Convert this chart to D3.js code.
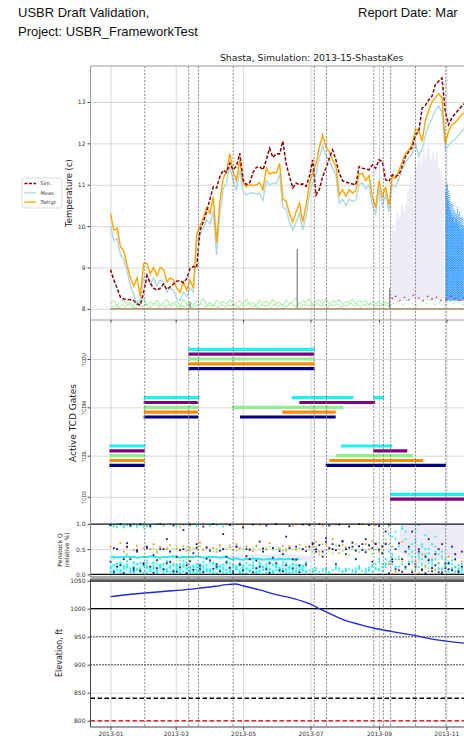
<!DOCTYPE html>
<html>
<head>
<meta charset="utf-8">
<style>
html, body { margin: 0; padding: 0; background: #fff; overflow: hidden; }
svg { display: block; font-family: "DejaVu Sans", sans-serif; }
.hdr { font-family: "Liberation Sans", Arial, sans-serif; }
</style>
<script src="https://cdnjs.cloudflare.com/ajax/libs/d3/7.8.5/d3.min.js"></script>
</head>
<body>
<div id="chart"></div>
<script>
// ---- Datos (días desde 2013-01-01) ----
const tempStep = 3;   // malla de temperaturas, cada 3 días desde el día 0
const simTemp = [
  8.95,8.7,8.5,8.28,8.24,8.23,8.22,8.2,8.12,8.09,8.4,8.8,
  8.62,8.5,8.45,8.5,8.6,8.47,8.53,8.6,8.67,8.68,8.63,8.73,
  8.98,9.02,9.0,9.9,10.1,10.35,10.65,10.95,10.92,11.2,11.35,11.3,
  11.52,11.36,11.45,11.76,11.12,11.0,11.05,11.3,11.42,11.44,11.36,11.6,
  11.88,11.66,11.75,11.74,12.05,11.5,11.2,10.92,11.04,11.0,11.02,10.96,
  11.2,11.6,10.75,10.88,11.2,11.4,11.64,11.84,11.6,11.28,11.1,11.06,
  11.04,11.02,11.0,11.44,11.4,11.38,11.36,11.48,11.4,11.6,11.56,11.12,
  11.08,11.24,11.2,11.24,11.44,11.68,11.8,11.9,12.2,12.3,12.85,12.92,
  13.05,13.14,13.42,13.5,13.58,12.77,12.45,12.62,12.72,12.81,12.9,12.98
];
const measTemp = [
  10.0,9.65,9.7,9.3,9.2,8.9,8.55,8.35,8.1,8.2,8.75,8.85,
  8.6,8.75,8.55,8.7,8.65,8.4,8.5,8.45,8.25,8.2,8.4,8.3,
  8.5,8.4,9.6,9.8,9.95,10.15,10.05,10.35,9.3,10.3,10.9,11.05,
  11.45,11.1,10.85,11.35,10.85,10.75,10.8,10.8,10.78,10.8,10.62,11.1,
  11.0,11.05,11.02,11.25,10.45,10.4,10.1,9.9,10.1,10.3,9.9,10.25,
  10.75,11.05,11.25,11.65,11.95,11.7,11.6,11.4,11.25,10.55,10.65,10.5,
  10.65,10.6,10.62,11.0,11.05,10.9,11.0,10.5,10.3,10.9,10.5,10.75,
  10.35,11.0,10.95,11.15,11.35,11.55,11.65,11.75,12.0,11.7,11.85,12.2,
  12.45,12.6,12.8,12.9,12.75,11.85,11.95,12.05,12.1,12.2,12.3,12.35
];
const trgtTemp = [
  10.3,9.9,9.95,9.5,9.4,9.05,8.75,8.55,8.75,8.3,9.1,9.1,
  8.85,9.0,8.8,9.0,8.95,8.65,8.75,8.7,8.5,8.4,8.65,8.45,
  8.7,8.5,9.8,10.0,10.2,10.45,10.3,10.7,9.6,10.6,11.15,11.3,
  11.75,11.3,11.1,11.6,11.05,10.95,11.0,10.98,11.0,11.05,10.88,11.4,
  11.25,11.3,11.28,11.52,10.65,10.6,10.3,10.1,10.35,10.55,10.1,10.5,
  11.0,11.3,11.5,11.9,12.2,11.9,11.8,11.6,11.45,10.75,10.88,10.72,
  10.88,10.8,10.85,11.25,11.28,11.1,11.22,10.7,10.45,11.1,10.7,10.95,
  10.5,11.2,11.15,11.35,11.55,11.75,11.85,11.97,12.35,12.3,12.05,12.55,
  12.8,13.0,13.1,13.2,13.1,12.0,12.3,12.45,12.5,12.6,12.7,12.75
];
// temperaturas de las compuertas (banda verde cerca de 8 °C)
const gateTempA = [
  8.12,8.2,8.08,8.18,8.22,8.1,8.15,8.06,8.2,8.13,8.24,8.09,
  8.17,8.11,8.21,8.07,8.16,8.23,8.1,8.14,8.19,8.08,8.22,8.12,
  8.17,8.09,8.2,8.14,8.25,8.1,8.16,8.07,8.21,8.13,8.18,8.11,
  8.23,8.09,8.15,8.2,8.12,8.24,8.1,8.17,8.08,8.21,8.14,8.19,
  8.1,8.23,8.13,8.16,8.09,8.22,8.12,8.18,8.26,8.11,8.2,8.15,
  8.24,8.1,8.17,8.21,8.13,8.25,8.12,8.19,8.16,8.22,8.1,8.18,
  8.14,8.23,8.11,8.2,8.15,8.21,8.09,8.17,8.12,8.19,8.1,8.16,8.13
];
const gateTempB = [
  8.04,8.08,8.03,8.1,8.05,8.12,8.06,8.02,8.09,8.05,8.11,8.04,
  8.07,8.13,8.05,8.09,8.03,8.1,8.06,8.12,8.04,8.08,8.05,8.11,
  8.03,8.09,8.07,8.13,8.04,8.1,8.06,8.08,8.03,8.12,8.05,8.09,
  8.07,8.11,8.04,8.1,8.06,8.13,8.05,8.08,8.03,8.11,8.07,8.09,
  8.04,8.12,8.06,8.1,8.05,8.08,8.14,8.06,8.1,8.04,8.12,8.07,
  8.09,8.05,8.13,8.06,8.11,8.04,8.1,8.08,8.12,8.05,8.09,8.07,
  8.14,8.06,8.1,8.04,8.11,8.08,8.13,8.05,8.09,8.06,8.12,8.07,8.1
];
const gateTempBStart = 1.5;
const baseTempLine = [[0, 8.0], [330, 8.0]];
const spikeTemp = [[72, 8.16], [169, 9.45], [252.6, 8.5]];
const lateGreenDots = [[256,8.12],[260,8.18],[265,8.1],[268,8.2],[273,8.14],[277,8.08],[282,8.17],[286,8.12],[290,8.2],[294,8.1],[298,8.15],[303,8.1],[307,8.18],[311,8.12],[315,8.16],[319,8.1]];
const lateRedDots = [[255,8.25],[258,8.3],[262,8.2],[266,8.28],[270,8.22],[274,8.33],[279,8.26],[283,8.2],[287,8.3],[291,8.24],[295,8.28],[299,8.2],[304,8.22],[308,8.3],[312,8.25],[316,8.2],[320,8.27]];
// zona lavanda y columnas azules punteadas al final del año
const lavStart = 254, lavStep = 1;
const lavTops = [9.6,9.9,10.1,9.8,9.9,10.3,10.4,10.2,10.2,10.5,10.6,10.4,10.3,10.6,10.5,10.9,10.8,11.1,11.3,10.9,11.0,11.5,11.7,11.3,
  11.5,11.8,11.9,11.4,11.6,11.8,12.0,11.6,11.7,12.1,11.9,11.8,11.5,11.7,11.9,11.6,11.6,11.8,11.7,11.4,11.4,11.2,11.5,11.0,11.2];
const blueStart = 303.5, blueStep = 0.5;
const blueTops = [10.9,11.05,10.7,11.0,10.6,10.85,10.5,10.75,10.4,10.6,10.3,10.55,10.2,10.5,10.25,10.4,10.1,10.35,10.2,10.3,10.15,10.45,10.0,10.3,10.1,10.35,9.9,10.2,10.05,10.25,9.95,10.2,10.0];
const colBottom = 8.2;

const tempTicks = [8, 9, 10, 11, 12, 13];
const legendNames = ["Sim.", "Meas.", "Twtrgt"];

// Compuertas TCD
const gateNames = ["TCDU", "TCDM", "TCDL", "TCDS"];
const gateLevels = [3, 2, 1, 0];
const gateTickVals = [3, 2, 1, 0.15];
const gateSeries = ["cyan", "purple", "lightgreen", "orange", "navy"];
const gateOffsets = [0.2, 0.1, 0, -0.1, -0.2];
const cyanGates = [["TCDL",-1,31.5],["TCDM",30,80.5],["TCDU",70.5,185],["TCDM",164,219.7],["TCDM",237.8,247.5],["TCDL",208.6,254.8],["TCDS",253,370]];
const purpleGates = [["TCDL",-1,31],["TCDM",30,79],["TCDU",70.5,184.4],["TCDM",170.9,239.4],["TCDL",237.8,268.6],["TCDS",253,370]];
const greenGates = [["TCDL",-1,31],["TCDM",30,79],["TCDU",70.5,184.4],["TCDM",110,210.7],["TCDL",203.8,273.5]];
const orangeGates = [["TCDL",-1,31],["TCDM",30,79],["TCDU",70.5,184.4],["TCDM",155.5,203.8],["TCDL",198,283]];
const navyGates = [["TCDL",-1,31],["TCDM",30,79.5],["TCDU",70.5,184.6],["TCDM",117.2,203.8],["TCDL",194.7,303.6]];
const changeDays = [31, 70.8, 79.6, 111, 184.4, 195.5, 238.3, 247, 253.5, 276, 303.4];

// Caudal relativo por toma (malla cada 3 días)
const qStep = 3;
const cyanQ1 = [
  0.05,0.18,0.09,0.22,0.04,0.14,0.11,0.03,0.2,0.07,0.16,0.24,
  0.06,0.12,0.02,0.19,0.1,0.05,0.23,0.08,0.15,0.04,0.21,0.12,
  0.06,0.17,0.03,0.13,0.25,0.08,0.05,0.2,0.11,0.16,0.04,0.09,
  0.22,0.06,0.14,0.02,0.18,0.1,0.07,0.24,0.12,0.05,0.15,0.2,
  0.08,0.03,0.17,0.11,0.06,0.22,0.13,0.04,0.19,0.09,0.15,0.05,
  0.08,0.04,0.12,null,0.06,0.1,0.03,null,0.14,0.07,0.05,0.11,
  null,0.09,0.04,0.16,0.06,0.1,0.13,0.05,0.2,0.08,0.15,0.18,
  0.25,0.4,0.15,0.55,0.3,0.7,0.22,0.45,0.9,0.35,0.6,0.18,
  0.5,0.28,0.75,0.4,0.12,0.3,0.2,0.08,0.15,0.05,0.1,0.06
];
const cyanQ2 = [
  0.12,0.03,0.2,0.07,0.16,0.26,0.05,0.14,0.09,0.22,0.02,0.17,
  0.11,0.24,0.06,0.13,0.21,0.08,0.15,0.04,0.19,0.1,0.27,0.03,
  0.14,0.08,0.2,0.05,0.12,0.18,0.07,0.23,0.02,0.15,0.1,0.26,
  0.06,0.19,0.11,0.04,0.13,0.22,0.08,0.16,0.03,0.2,0.09,0.12,
  0.25,0.05,0.14,0.07,0.18,0.1,0.03,0.21,0.06,0.16,0.11,0.24,
  null,0.1,null,0.05,null,0.12,null,0.08,0.15,null,0.06,null,
  0.1,null,0.07,0.13,null,0.04,0.1,null,0.12,0.3,0.06,0.22,
  0.6,0.2,0.85,0.35,0.95,0.12,0.5,0.25,0.65,0.98,0.3,0.78,
  0.42,0.2,0.55,0.1,0.35,0.06,0.25,0.12,0.04,0.18,0.08,0.14
];
const cyanQ3 = [
  0.97,0.02,1.0,0.08,0.95,0.15,0.99,0.05,0.96,0.1,0.98,0.03,
  0.93,0.12,0.07,0.18,0.04,0.1,0.15,0.02,0.08,0.2,0.05,0.11,
  0.03,0.14,0.09,0.02,0.17,0.06,0.1,0.04,0.13,0.07,0.19,0.03,
  0.1,0.05,0.16,0.08,0.02,0.12,0.06,0.18,0.04,0.09,0.14,0.03,
  0.11,0.07,0.2,0.05,0.1,0.02,0.15,0.08,0.12,0.04,0.17,0.06,
  null,null,0.08,null,null,0.04,null,null,0.1,null,null,0.06,
  null,null,0.12,null,null,0.08,null,0.15,null,0.1,0.2,0.14,
  0.8,0.35,0.7,0.15,0.9,0.45,0.25,0.6,0.1,0.4,0.2,0.5,
  0.3,0.15,0.45,0.22,0.08,0.16,0.1,0.2,0.06,0.12,0.03,0.09
];
const cyanQ4 = [
  0.15,0.08,0.21,0.02,0.12,0.19,0.06,0.24,0.1,0.04,0.17,0.13,
  0.07,0.2,0.03,0.15,0.09,0.26,0.05,0.18,0.11,0.02,0.16,0.23,
  0.09,0.04,0.14,0.2,0.06,0.11,0.25,0.03,0.17,0.08,0.13,0.21,
  0.04,0.16,0.1,0.22,0.07,0.02,0.18,0.12,0.05,0.24,0.09,0.15,
  0.03,0.19,0.08,0.13,0.25,0.06,0.1,0.2,0.04,0.14,0.07,0.17,
  null,0.06,null,null,0.1,null,0.04,null,null,0.12,null,0.08,
  null,0.05,null,0.1,null,null,0.07,0.18,0.1,0.25,0.4,0.3,
  0.45,0.75,0.3,0.6,0.2,0.85,0.5,0.35,0.7,0.15,0.55,0.4,
  0.22,0.6,0.3,0.12,0.45,0.2,0.05,0.28,0.15,0.1,0.2,0.04
];
const cyanTopQ = [
  0.99,0.97,0.94,1.0,0.96,0.98,0.95,0.99,0.97,1.0,0.93,0.98,
  0.96,null,0.99,null,0.97,null,1.0,null,0.95,null,0.98,null,
  0.99,null,0.96,null,1.0,null,0.97,null,0.98,null,0.95,null
];
const cyanBand = [
  0.34,0.35,0.33,0.35,0.34,0.36,0.34,0.35,0.33,0.34,0.35,0.34,
  0.36,0.35,0.34,0.33,0.35,0.34,0.35,0.36,0.34,0.33,0.35,0.34,
  0.35,0.34,0.36,0.35,0.33,0.34,0.35,0.34,0.35,0.33,0.34,0.35,
  0.31,0.3,0.32,0.3,0.29,0.31,0.3,0.32,0.3,0.31,0.29,0.3,
  0.31,0.3,0.29,0.31,0.3,0.3,0.31,0.29,0.3,0.31
];
const navyQ1 = [
  0.98,0.52,0.15,1.0,0.3,0.62,0.97,0.08,0.45,0.99,0.22,0.55,
  0.96,0.38,0.12,1.0,0.5,0.7,0.25,0.97,0.05,0.48,0.88,0.18,
  0.99,0.42,0.6,0.1,0.95,0.53,0.28,1.0,0.15,0.47,0.8,0.35,
  0.98,0.06,0.55,0.2,0.93,0.5,0.3,0.99,0.12,0.65,0.45,0.97,
  0.22,0.52,1.0,0.08,0.4,0.75,0.96,0.3,0.55,0.18,0.99,0.46,
  0.98,0.6,0.45,1.0,0.35,0.72,0.97,0.5,0.2,0.99,0.65,0.4,
  0.95,0.55,0.3,1.0,0.48,0.7,0.98,0.25,0.6,0.96,0.42,0.85,
  0.99,0.3,0.1,0.62,0.05,0.45,0.2,0.85,0.15,0.5,0.08,0.35,
  0.7,0.12,0.4,0.04,0.6,0.22,0.1,0.55,0.3,0.06,0.45,0.18
];
const navyQ2 = [
  0.25,0.05,0.5,0.18,0.02,0.55,0.3,0.12,0.48,0.07,0.2,0.52,
  0.15,0.03,0.28,0.5,0.1,0.22,0.45,0.06,0.35,0.14,0.5,0.02,
  0.26,0.09,0.53,0.17,0.04,0.31,0.47,0.11,0.2,0.06,0.5,0.24,
  0.13,0.02,0.55,0.19,0.08,0.36,0.49,0.04,0.27,0.15,0.51,0.1,
  0.03,0.33,0.22,0.46,0.06,0.18,0.52,0.12,0.29,0.04,0.5,0.2,
  0.55,0.62,0.5,0.58,0.45,0.65,0.52,0.6,0.48,0.57,0.66,0.5,
  0.53,0.63,0.47,0.56,0.6,0.44,0.58,0.52,0.61,0.49,0.55,0.6,
  0.02,0.25,0.5,0.08,0.3,0.15,0.55,0.04,0.2,0.45,0.1,0.02,
  0.28,0.06,0.18,0.5,0.03,0.12,0.22,0.08,0.4,0.05,0.15,0.02
];
const orangeQ = [
  0.55,0.97,0.5,0.62,0.45,0.53,0.99,0.48,0.57,0.12,0.52,0.96,
  0.5,0.6,0.44,0.54,0.98,0.5,0.58,0.2,0.51,0.95,0.56,0.47,
  0.53,1.0,0.5,0.63,0.49,0.55,0.97,0.52,0.45,0.58,0.5,0.99,
  0.54,0.48,0.6,0.51,0.96,0.55,0.5,0.46,0.57,0.98,0.52,0.49,
  0.62,0.53,1.0,0.5,0.56,0.47,0.55,0.97,0.51,0.59,0.5,0.54,
  0.98,0.55,0.65,0.45,0.97,0.6,0.5,0.7,0.99,0.42,0.58,0.52,
  0.96,0.63,0.48,0.55,1.0,0.6,0.5,0.66,0.98,0.45,0.57,0.62,
  0.2,0.55,0.05,0.3,0.65,0.12,0.5,0.08,0.25,0.02,0.4,0.15,
  0.06,0.3,0.1,0.22,0.04,0.18,0.35,0.08,0.14,0.03,0.25,0.1
];
const greenQ = [
  0.99,0.95,1.0,0.97,0.93,0.98,0.96,1.0,0.94,0.99,0.97,0.95,
  0.5,0.52,0.48,0.55,0.5,0.53,0.46,0.51,0.57,0.49,0.5,0.54,
  0.47,0.52,0.5,0.56,0.48,0.53,0.51,0.45,0.5,0.55,0.49,0.52,
  0.58,0.5,0.47,0.53,0.5,0.56,0.48,0.51,0.54,0.5,0.46,0.52,
  0.55,0.49,0.5,0.53,0.47,0.51,0.56,0.5,0.48,0.52,0.5,0.54,
  0.5,0.45,0.55,0.4,0.6,0.48,0.52,0.42,0.58,0.5,0.46,0.54,
  0.38,0.5,0.6,0.44,0.52,0.48,0.56,0.4,0.5,0.62,0.45,0.7,
  0.95,0.3,0.15,0.6,0.25,0.1,0.4,0.2,0.05,0.3,0.18,0.35,
  0.12,0.25,0.08,0.2,0.3,0.15,0.22,0.1,0.28,0.18,0.12,0.24
];
const greenQ2 = [
  0.96,0.3,0.99,0.25,0.94,0.4,0.98,0.2,0.95,0.35,1.0,0.28,
  0.97,0.15,0.22,0.3,0.18,0.26,0.12,0.32,0.2,0.27,0.14,0.3
];
// banda lavanda [día, q inferior, q superior]
const lavBand = [[108,0.28,0.38],[125,0.27,0.4],[140,0.26,0.39],[155,0.27,0.41],[170,0.28,0.38],[185,0.27,0.36],[195,null,null],
  [262,0.45,0.95],[270,0.3,1.0],[280,0.2,1.0],[292,0.25,0.98],[305,0.35,1.0],[318,0.3,1.0],[330,0.3,1.0]];
// banda cian de fondo [día, q inferior, q superior]
const cyanLowBand = [[0,0.02,0.22],[30,0.03,0.24],[60,0.02,0.2],[90,0.03,0.23],[120,0.02,0.2],[150,0.03,0.22],[178,0.02,0.2],[182,null,null],
  [372,null,null],[378,0.05,0.45],[390,0.1,0.8],[400,0.08,0.6],[410,null,null]];
const penRefVals = [1.0, 0.0];
const penTicks = [0.0, 0.5, 1.0];

// Elevación del embalse
const elevDays = [0,15,31,50,71,80,95,105,113,120,135,150,165,180,190,200,210,225,238,255,276,290,304,320,335];
const elevVals = [1021.5,1025,1028,1031,1034.5,1036.5,1040,1043,1044,1041,1033.5,1025,1018.5,1009,999,990,981,972,965.5,959,952,946,942,938.5,936];
const elevRefVals = [1050, 1000, 950, 900, 840, 800];
const elevTicks = [800, 850, 900, 950, 1000, 1050];

// ---- Configuración visual ----
const W = 464, H = 741;
const L = 90.5, R = 532.7;
const P = {
  temp: { top: 66, bottom: 320 },
  gates: { top: 320, bottom: 518 },
  pen: { top: 518, bottom: 577 },
  elev: { top: 579, bottom: 727 }
};
const gateColors = { cyan: "#20f0f0", purple: "#800080", lightgreen: "#90ee90", orange: "#ff8c00", navy: "#000080" };
const elevRefStyle = [
  { color: "#555", w: 2.4, dash: null },
  { color: "#000", w: 1.3, dash: null },
  { color: "#000", w: 1.2, dash: "1,2" },
  { color: "#000", w: 1.2, dash: "1,2" },
  { color: "#000", w: 1.4, dash: "4.5,2.5" },
  { color: "#e3242b", w: 1.4, dash: "4.5,2.5" }
];

const t0 = Date.UTC(2013, 0, 1);
const toDate = d => new Date(t0 + d * 864e5);

const x = d3.scaleUtc().domain([toDate(-18.1), toDate(382.1)]).range([L, R]);
const yT = d3.scaleLinear().domain([7.73, 13.87]).range([P.temp.bottom, P.temp.top]);
const yG = d3.scaleLinear().domain([-0.29, 3.807]).range([P.gates.bottom, P.gates.top]);
const yQ = d3.scaleLinear().domain([-0.054, 1.12]).range([P.pen.bottom, P.pen.top]);
const yE = d3.scaleLinear().domain([788.75, 1053]).range([P.elev.bottom, P.elev.top]);

const svg = d3.select("#chart").append("svg").attr("width", W).attr("height", H);
const defs = svg.append("defs");
Object.entries(P).forEach(([k, p]) => {
  defs.append("clipPath").attr("id", "clip-" + k)
    .append("rect").attr("x", L).attr("y", p.top).attr("width", R - L).attr("height", p.bottom - p.top);
});

// Encabezado
svg.append("text").attr("class", "hdr").attr("x", 18).attr("y", 17).attr("font-size", 13).attr("fill", "#111").text("USBR Draft Validation,");
svg.append("text").attr("class", "hdr").attr("x", 18).attr("y", 36).attr("font-size", 13).attr("fill", "#111").text("Project: USBR_FrameworkTest");
svg.append("text").attr("class", "hdr").attr("x", 358).attr("y", 17).attr("font-size", 13).attr("fill", "#111").text("Report Date: Mar");
svg.append("text").attr("x", (L + R) / 2).attr("y", 61).attr("text-anchor", "middle").attr("font-size", 9.3).attr("fill", "#222")
  .text("Shasta, Simulation: 2013-15-ShastaKes");

// marcas cada dos meses dentro del año simulado
const monthTicks = d3.utcMonth.every(2).range(toDate(0), toDate(365));

function drawGrid(p, y, ticks) {
  const g = svg.append("g");
  g.append("g").attr("transform", `translate(${L},0)`)
    .call(d3.axisLeft(y).tickValues(ticks).tickSize(-(R - L)).tickFormat(""))
    .call(s => s.select(".domain").remove())
    .selectAll("line").attr("stroke", "#d4d4d4").attr("stroke-width", 0.9);
  g.append("g").attr("transform", `translate(0,${p.bottom})`)
    .call(d3.axisBottom(x).tickValues(monthTicks).tickSize(-(p.bottom - p.top)).tickFormat(""))
    .call(s => s.select(".domain").remove())
    .selectAll("line").attr("stroke", "#d4d4d4").attr("stroke-width", 0.9);
}

function yAxis(y, ticks, fmt) {
  const g = svg.append("g").attr("transform", `translate(${L},0)`)
    .call(d3.axisLeft(y).tickValues(ticks).tickSize(3).tickPadding(2).tickFormat(fmt));
  g.select(".domain").remove();
  g.selectAll("line").attr("stroke", "#444");
  g.selectAll("text").attr("font-size", 6).attr("fill", "#333").attr("font-family", "DejaVu Sans");
  return g;
}

function yLabel(text, cx, cy, size) {
  svg.append("text").attr("transform", `translate(${cx},${cy}) rotate(-90)`)
    .attr("text-anchor", "middle").attr("font-size", size).attr("fill", "#222").text(text);
}

drawGrid(P.temp, yT, tempTicks);
drawGrid(P.gates, yG, gateTickVals);
drawGrid(P.pen, yQ, [0.5]);
drawGrid(P.elev, yE, elevTicks);

// ---- Panel de temperatura ----
const gT = svg.append("g").attr("clip-path", "url(#clip-temp)");
const gridPts = (arr, step, start = 0) => arr.map((v, i) => [start + i * step, v]).filter(d => d[1] != null);
const lineT = d3.line().x(d => x(toDate(d[0]))).y(d => yT(d[1]));

// zona lavanda (relleno suave) y columnas azules punteadas
gT.append("path").datum(gridPts(lavTops, lavStep, lavStart))
  .attr("d", d3.area().x(d => x(toDate(d[0]))).y0(yT(colBottom)).y1(d => yT(d[1])))
  .attr("fill", "#ecebf8");
gT.append("g").selectAll("line").data(blueTops).join("line")
  .attr("x1", (d, i) => x(toDate(blueStart + i * blueStep))).attr("x2", (d, i) => x(toDate(blueStart + i * blueStep)))
  .attr("y1", yT(colBottom)).attr("y2", d => yT(d))
  .attr("stroke", "#1e8fff").attr("stroke-width", 1).attr("stroke-dasharray", "1.2,1")
  .attr("stroke-dashoffset", (d, i) => (i % 3) * 0.7);

gT.append("path").datum(gridPts(gateTempA, tempStep)).attr("d", lineT)
  .attr("fill", "none").attr("stroke", "#90ee90").attr("stroke-width", 1);
gT.append("path").datum(gridPts(gateTempB, tempStep, gateTempBStart)).attr("d", lineT)
  .attr("fill", "none").attr("stroke", "#9aea8e").attr("stroke-width", 1);
gT.append("g").selectAll("circle").data(lateGreenDots).join("circle")
  .attr("cx", d => x(toDate(d[0]))).attr("cy", d => yT(d[1])).attr("r", 0.8).attr("fill", "#90ee90");
gT.append("g").selectAll("circle").data(lateRedDots).join("circle")
  .attr("cx", d => x(toDate(d[0]))).attr("cy", d => yT(d[1])).attr("r", 0.8).attr("fill", "#d0203a");
gT.append("g").selectAll("line").data(spikeTemp).join("line")
  .attr("x1", d => x(toDate(d[0]))).attr("x2", d => x(toDate(d[0])))
  .attr("y1", yT(8.0)).attr("y2", d => yT(d[1]))
  .attr("stroke", "#8a8a8a").attr("stroke-width", 1.3);
gT.append("path").datum(baseTempLine).attr("d", lineT)
  .attr("fill", "none").attr("stroke", "#b59a7a").attr("stroke-width", 1.8);

gT.append("path").datum(gridPts(measTemp, tempStep)).attr("d", lineT)
  .attr("fill", "none").attr("stroke", "#add8e6").attr("stroke-width", 1.4);
gT.append("path").datum(gridPts(trgtTemp, tempStep)).attr("d", lineT)
  .attr("fill", "none").attr("stroke", "#ffa500").attr("stroke-width", 1.4);
gT.append("path").datum(gridPts(simTemp, tempStep)).attr("d", lineT)
  .attr("fill", "none").attr("stroke", "#8b0000").attr("stroke-width", 1.5).attr("stroke-dasharray", "3.5,1.8");

yAxis(yT, tempTicks, d3.format("d"));
yLabel("Temperature (c)", 72, 193, 8.5);

// Leyenda
const leg = svg.append("g").attr("transform", "translate(22,178)");
leg.append("rect").attr("width", 40).attr("height", 30).attr("rx", 2)
  .attr("fill", "#fff").attr("stroke", "#d0d0d0").attr("stroke-width", 0.8);
const legStyle = [
  { color: "#8b0000", dash: "3,1.5" },
  { color: "#add8e6", dash: null },
  { color: "#ffa500", dash: null }
];
legendNames.forEach((name, i) => {
  const yy = 5.5 + i * 9.3;
  leg.append("line").attr("x1", 2.5).attr("x2", 14).attr("y1", yy).attr("y2", yy)
    .attr("stroke", legStyle[i].color).attr("stroke-width", 1.3).attr("stroke-dasharray", legStyle[i].dash);
  leg.append("text").attr("x", 18.5).attr("y", yy + 1.8).attr("font-size", 5).attr("fill", "#333").text(name);
});

// ---- Panel de compuertas ----
const gG = svg.append("g").attr("clip-path", "url(#clip-gates)");
const gatePeriods = [cyanGates, purpleGates, greenGates, orangeGates, navyGates];
gateSeries.forEach((s, si) => {
  gG.append("g").selectAll("line").data(gatePeriods[si]).join("line")
    .attr("x1", d => x(toDate(d[1]))).attr("x2", d => x(toDate(d[2])))
    .attr("y1", d => yG(gateLevels[gateNames.indexOf(d[0])] + gateOffsets[si]))
    .attr("y2", d => yG(gateLevels[gateNames.indexOf(d[0])] + gateOffsets[si]))
    .attr("stroke", gateColors[s]).attr("stroke-width", 3.2);
});
const ga = svg.append("g").attr("transform", `translate(${L},0)`)
  .call(d3.axisLeft(yG).tickValues(gateTickVals).tickSize(3).tickFormat((d, i) => gateNames[i]));
ga.select(".domain").remove();
ga.selectAll("line").attr("stroke", "#444");
ga.selectAll("text").attr("font-size", 4.6).attr("fill", "#333").attr("text-anchor", "middle")
  .attr("transform", "rotate(-90)").attr("x", 0).attr("y", -6).attr("dy", "0.32em");
yLabel("Active TCD Gates", 76, 423, 9);

// ---- Panel de caudal ----
const gQ = svg.append("g").attr("clip-path", "url(#clip-pen)");
const areaQ = d3.area().defined(d => d[1] != null)
  .x(d => x(toDate(d[0]))).y0(d => yQ(d[1])).y1(d => yQ(d[2])).curve(d3.curveMonotoneX);
gQ.append("path").datum(lavBand).attr("d", areaQ).attr("fill", "#ebeaf7");
gQ.append("path").datum(cyanLowBand).attr("d", areaQ).attr("fill", "#20f0f0").attr("opacity", 0.22);
gQ.append("path").datum(gridPts(cyanBand, qStep)).attr("d", d3.line().x(d => x(toDate(d[0]))).y(d => yQ(d[1])))
  .attr("fill", "none").attr("stroke", "#30e8e8").attr("stroke-width", 2);
const qLayers = [
  { data: greenQ, color: "#90ee90" },
  { data: greenQ2, color: "#90ee90" },
  { data: orangeQ, color: "#ff9a20" },
  { data: cyanQ1, color: "#20f0f0" },
  { data: cyanQ2, color: "#20f0f0" },
  { data: cyanQ3, color: "#20f0f0" },
  { data: cyanQ4, color: "#20f0f0" },
  { data: cyanTopQ, color: "#20f0f0" },
  { data: navyQ2, color: "#1a1a80" },
  { data: navyQ1, color: "#1a1a80" }
];
qLayers.forEach(layer => {
  gQ.append("g").selectAll("rect").data(gridPts(layer.data, qStep)).join("rect")
    .attr("x", d => x(toDate(d[0])) - 0.9).attr("y", d => yQ(d[1]) - 0.9)
    .attr("width", 1.8).attr("height", 1.8).attr("fill", layer.color);
});
gQ.append("g").selectAll("line").data(penRefVals).join("line")
  .attr("x1", L).attr("x2", R).attr("y1", d => yQ(d)).attr("y2", d => yQ(d))
  .attr("stroke", "#111").attr("stroke-width", 1.3);
yAxis(yQ, penTicks, d3.format(".1f"));
svg.append("text").attr("transform", "translate(62,550) rotate(-90)").attr("text-anchor", "middle")
  .attr("font-size", 6).attr("fill", "#222").text("Penstock Q");
svg.append("text").attr("transform", "translate(68.5,550) rotate(-90)").attr("text-anchor", "middle")
  .attr("font-size", 6).attr("fill", "#222").text("(relative %)");

// ---- Panel de elevación ----
const gE = svg.append("g").attr("clip-path", "url(#clip-elev)");
gE.append("g").selectAll("line").data(elevRefVals).join("line")
  .attr("x1", L).attr("x2", R).attr("y1", d => yE(d)).attr("y2", d => yE(d))
  .attr("stroke", (d, i) => elevRefStyle[i].color).attr("stroke-width", (d, i) => elevRefStyle[i].w)
  .attr("stroke-dasharray", (d, i) => elevRefStyle[i].dash);
gE.append("path").datum(elevDays.map((d, i) => [d, elevVals[i]]))
  .attr("d", d3.line().x(d => x(toDate(d[0]))).y(d => yE(d[1])).curve(d3.curveMonotoneX))
  .attr("fill", "none").attr("stroke", "#1f2bd6").attr("stroke-width", 1.4);
yAxis(yE, elevTicks, d3.format("d"));
yLabel("Elevation, ft", 62, 653, 8);

// Líneas verticales discontinuas (cambios de compuerta), a través de todos los paneles
svg.append("g").selectAll("line").data(changeDays).join("line")
  .attr("x1", d => x(toDate(d))).attr("x2", d => x(toDate(d)))
  .attr("y1", P.temp.top).attr("y2", P.elev.bottom)
  .attr("stroke", "#7a7a7a").attr("stroke-width", 0.9).attr("stroke-dasharray", "2,1.5");

// Marcos de los paneles
const spine = (x1, y1, x2, y2, c) => svg.append("line").attr("x1", x1).attr("y1", y1).attr("x2", x2).attr("y2", y2)
  .attr("stroke", c).attr("stroke-width", 1);
spine(L, P.temp.top, R, P.temp.top, "#9a9a9a");
spine(L, P.temp.top, L, P.temp.bottom, "#9a9a9a");
spine(L, P.temp.bottom, R, P.temp.bottom, "#9a9a9a");
spine(L, P.gates.top, L, P.pen.bottom, "#8a8a8a");
spine(L, P.pen.bottom, R, P.pen.bottom, "#555");
spine(L, P.elev.top, R, P.elev.top, "#555");
spine(L, P.elev.top, L, P.elev.bottom, "#444");
spine(L, P.elev.bottom, R, P.elev.bottom, "#444");

// Marcas del eje x superior (debajo del panel de temperatura)
svg.append("g").attr("transform", `translate(0,${P.temp.bottom})`)
  .call(d3.axisBottom(x).tickValues(monthTicks).tickSize(2.5).tickFormat(""))
  .call(s => s.select(".domain").remove())
  .selectAll("line").attr("stroke", "#444");

// Eje x inferior
const xa = svg.append("g").attr("transform", `translate(0,${P.elev.bottom})`)
  .call(d3.axisBottom(x).tickValues(monthTicks).tickSize(3).tickPadding(2).tickFormat(d3.utcFormat("%Y-%m")));
xa.select(".domain").remove();
xa.selectAll("line").attr("stroke", "#444");
xa.selectAll("text").attr("font-size", 6).attr("fill", "#333").attr("font-family", "DejaVu Sans");
</script>
</body>
</html>
